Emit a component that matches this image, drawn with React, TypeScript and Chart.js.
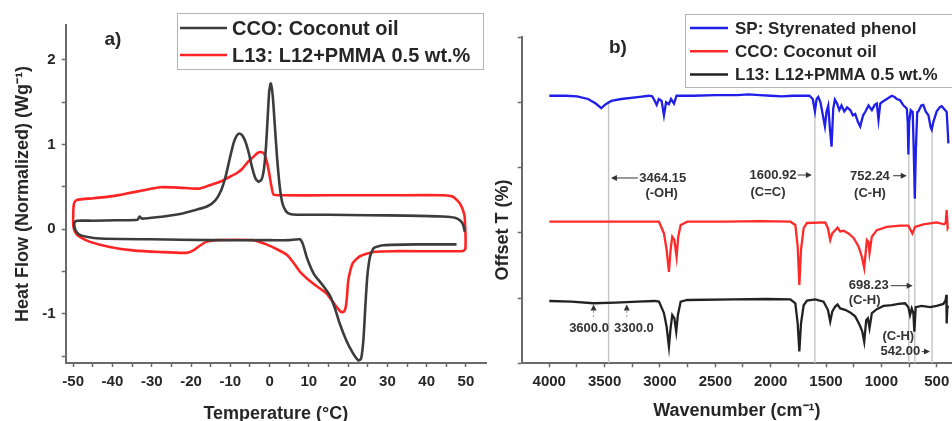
import React, { useEffect, useRef } from 'react';
import { Chart, registerables } from 'chart.js';

Chart.register(...registerables);

const FONT = '"Liberation Sans", Arial, Helvetica, sans-serif';
const TEXT = '#262626';
const AXIS = '#6a6a6a';

// ---------- Panel a) DSC ----------
const dscLabels = ['CCO: Coconut oil', 'L13: L12+PMMA 0.5 wt.%'];
const dscColors = ['#3c3c3c', '#ff2424'];

const ccoDscTemp = [49.7, 49.3, 48.6, 47.2, 44.0, 35.0, 25.0, 15.0, 7.0, 5.2, 4.2, 3.3, 2.6, 1.9, 1.3, 0.8, 0.3, -0.1, -0.5, -0.9,
  -1.4, -2.0, -2.8, -3.6, -4.4, -5.3, -6.2, -7.0, -7.7, -8.4, -9.2, -10.1, -11.2, -12.4, -13.8, -15.8, -18.6, -22.8, -28.8, -32.6,
  -33.1, -33.6, -39.0, -45.0, -49.0, -49.7, -49.5, -48.6, -46.6, -43.2, -30.0, -15.0, 0.0, 5.0, 7.7, 8.5, 9.6, 11.3, 13.5, 15.3,
  16.6, 17.9, 19.6, 21.3, 22.6, 23.3, 23.9, 24.4, 24.9, 25.6, 26.6, 29.0, 37.4, 47.6];
const ccoDscHeat = [-0.03, 0.05, 0.10, 0.135, 0.15, 0.16, 0.165, 0.17, 0.17, 0.18, 0.21, 0.30, 0.50, 0.85, 1.25, 1.58, 1.72, 1.62, 1.30, 0.98,
  0.72, 0.59, 0.56, 0.60, 0.72, 0.90, 1.04, 1.11, 1.13, 1.10, 1.01, 0.84, 0.62, 0.45, 0.34, 0.27, 0.23, 0.18, 0.14, 0.125,
  0.15, 0.11, 0.105, 0.10, 0.10, 0.08, 0.00, -0.06, -0.09, -0.11, -0.12, -0.13, -0.13, -0.13, -0.12, -0.18, -0.35, -0.53, -0.66, -0.78,
  -0.93, -1.12, -1.32, -1.47, -1.55, -1.53, -1.30, -0.90, -0.55, -0.32, -0.22, -0.19, -0.18, -0.18];

const l13DscTemp = [49.8, 49.6, 48.5, 46.8, 44.2, 30.0, 15.0, 3.0, 1.0, 0.5, -0.1, -0.6, -1.4, -2.3, -3.0, -4.2, -5.4, -7.0, -8.4, -10.5,
  -12.6, -14.5, -17.7, -20.0, -23.0, -27.9, -32.0, -36.4, -40.0, -44.9, -49.1, -49.8, -50.0, -49.9, -49.3, -48.3, -45.7, -40.7, -34.8, -27.9,
  -21.2, -19.4, -17.6, -16.1, -13.6, -4.2, -0.8, 2.0, 4.3, 6.0, 7.7, 11.0, 14.5, 17.1, 18.3, 19.0, 19.4, 19.7, 20.0, 20.5,
  21.2, 23.0, 26.4, 31.4, 48.9, 49.8, 49.9, 49.8];
const l13DscHeat = [0.03, 0.17, 0.30, 0.38, 0.40, 0.40, 0.40, 0.40, 0.41, 0.50, 0.66, 0.78, 0.89, 0.91, 0.90, 0.85, 0.80, 0.71, 0.66, 0.61,
  0.56, 0.53, 0.48, 0.48, 0.49, 0.495, 0.46, 0.42, 0.39, 0.365, 0.345, 0.30, 0.15, 0.02, -0.05, -0.09, -0.15, -0.21, -0.25, -0.27,
  -0.28, -0.25, -0.19, -0.15, -0.13, -0.13, -0.18, -0.24, -0.30, -0.39, -0.50, -0.64, -0.76, -0.92, -0.98, -0.97, -0.92, -0.80, -0.62, -0.50,
  -0.40, -0.32, -0.27, -0.26, -0.26, -0.24, -0.10, 0.03];

const dscTempTicks = [-50, -45, -40, -35, -30, -25, -20, -15, -10, -5, 0, 5, 10, 15, 20, 25, 30, 35, 40, 45, 50];
const dscHeatTicks = [-1.5, -1, -0.5, 0, 0.5, 1, 1.5, 2];
const dscPanelLetter = 'a)';
const dscLetterPos = [-39.9, 2.24];

// ---------- Panel b) FTIR ----------
const ftirLabels = ['SP: Styrenated phenol', 'CCO: Coconut oil', 'L13: L12+PMMA 0.5 wt.%'];
const ftirColors = ['#1f1fe8', '#ff2a2a', '#222222'];

const spWn = [4000, 3850, 3750, 3650, 3580, 3530, 3490, 3440, 3350, 3200, 3100, 3070, 3050, 3030, 3010, 2985, 2964, 2945, 2920, 2900,
  2873, 2850, 2700, 2500, 2300, 2200, 2100, 2000, 1900, 1800, 1700, 1650, 1620, 1600, 1585, 1570, 1550, 1510, 1495, 1480,
  1465, 1450, 1435, 1420, 1400, 1380, 1360, 1335, 1310, 1281, 1257, 1236, 1212, 1191, 1165, 1146, 1116, 1086, 1060, 1041,
  1026, 1010, 996, 951, 906, 880, 861, 831, 800, 786, 770, 762, 756, 749, 735, 717, 708, 698, 688, 676,
  666, 640, 621, 600, 575, 555, 545, 530, 500, 470, 455, 425, 410, 400, 395];
const spT = [4.10, 4.10, 4.09, 4.05, 3.98, 3.91, 3.97, 4.02, 4.05, 4.08, 4.10, 4.09, 4.03, 3.96, 4.05, 4.02, 3.80, 4.00, 3.97, 4.05,
  3.98, 4.10, 4.10, 4.11, 4.11, 4.12, 4.11, 4.10, 4.09, 4.10, 4.10, 4.10, 4.05, 3.86, 4.05, 4.08, 4.00, 3.63, 3.86, 3.95,
  3.60, 3.32, 3.90, 4.04, 3.98, 3.88, 3.95, 3.86, 3.92, 3.88, 3.80, 3.82, 3.70, 3.63, 3.80, 3.85, 3.95, 3.88, 3.96, 3.98,
  3.73, 3.98, 4.00, 4.05, 4.10, 4.08, 4.05, 4.03, 3.95, 3.93, 3.90, 3.70, 3.20, 3.70, 3.88, 3.85, 3.30, 2.52, 3.30, 3.85,
  3.86, 3.95, 3.96, 3.86, 3.80, 3.62, 3.58, 3.70, 3.86, 3.93, 3.94, 3.88, 3.85, 3.55, 3.37];

const ccoWn = [4000, 3500, 3100, 3009, 2964, 2940, 2919, 2904, 2889, 2870, 2850, 2835, 2813, 2753, 2400, 2100, 1822, 1777, 1756, 1741,
  1726, 1702, 1672, 1507, 1483, 1462, 1444, 1417, 1396, 1372, 1342, 1297, 1251, 1206, 1176, 1155, 1131, 1116, 1107, 1086,
  1041, 951, 831, 756, 735, 720, 696, 621, 500, 434, 419, 410, 401, 398];
const ccoT = [2.17, 2.17, 2.17, 2.17, 1.99, 1.74, 1.40, 1.74, 1.94, 1.89, 1.63, 1.94, 2.12, 2.17, 2.17, 2.18, 2.17, 2.12, 1.79, 1.20,
  1.74, 2.07, 2.15, 2.16, 2.07, 1.89, 1.99, 2.04, 2.08, 2.02, 2.03, 1.99, 1.92, 1.79, 1.63, 1.46, 1.89, 1.86, 1.69, 1.94,
  2.04, 2.09, 2.11, 2.11, 2.04, 1.99, 2.09, 2.13, 2.16, 2.13, 2.15, 2.35, 2.07, 2.08];

const l13Wn = [4000, 3800, 3600, 3400, 3200, 3050, 3009, 2964, 2940, 2919, 2904, 2889, 2870, 2853, 2838, 2813, 2753, 2333, 2032, 1822,
  1777, 1756, 1741, 1726, 1702, 1672, 1597, 1522, 1483, 1462, 1444, 1417, 1396, 1372, 1327, 1282, 1237, 1197, 1173, 1155,
  1137, 1122, 1107, 1086, 1041, 981, 906, 846, 786, 756, 741, 726, 711, 702, 690, 636, 560, 500, 440, 419,
  413, 410, 404, 400];
const l13T = [0.955, 0.945, 0.92, 0.93, 0.945, 0.955, 0.945, 0.77, 0.56, 0.255, 0.54, 0.74, 0.69, 0.485, 0.74, 0.945, 0.97, 0.98, 0.985, 0.98,
  0.92, 0.61, 0.18, 0.61, 0.89, 0.96, 0.98, 0.945, 0.82, 0.64, 0.79, 0.87, 0.90, 0.84, 0.82, 0.78, 0.72, 0.59, 0.49, 0.33,
  0.66, 0.69, 0.54, 0.77, 0.83, 0.88, 0.89, 0.91, 0.92, 0.86, 0.74, 0.84, 0.77, 0.485, 0.86, 0.88, 0.86, 0.88, 0.91, 0.97,
  1.05, 0.61, 0.87, 0.88];

const ftirWnTicks = [500, 750, 1000, 1250, 1500, 1750, 2000, 2250, 2500, 2750, 3000, 3250, 3500, 3750, 4000];
const ftirOffsetTicks = [0, 1, 2, 3, 4, 5];

// reference lines (wavenumber, top value)
const markerWn = [3464.15, 1600.92, 752.24, 698.23, 542.0];
const markerTop = [4.02, 4.03, 3.22, 2.52, 3.6];

// annotation texts
const noteText = ['3464.15', '(-OH)', '1600.92', '(C=C)', '752.24', '(C-H)', '698.23', '(C-H)', '(C-H)', '542.00', '3600.0', '3300.0'];
const noteWn = [2975, 2985, 1979, 2024, 1103, 1103, 1114, 1151, 847, 829, 3641, 3235];
const noteT = [2.84, 2.61, 2.885, 2.625, 2.86, 2.61, 1.19, 0.97, 0.41, 0.18, 0.54, 0.54];
// horizontal arrows: from -> to (head at "to")
const arrowFromWn = [3200, 1755, 893, 916, 636];
const arrowToWn = [3443, 1628, 771, 717, 561];
const arrowT = [2.84, 2.885, 2.875, 1.19, 0.18];
// small upward arrows
const upArrowWn = [3600, 3300];
const upArrowFromT = 0.71;
const upArrowToT = 0.9;
const ftirPanelLetter = 'b)';
const ftirLetterPos = [3380, 4.84];

function toPoints(xs: number[], ys: number[]) {
  return xs.map((x, i) => ({ x, y: ys[i] }));
}

function drawHArrow(ctx: CanvasRenderingContext2D, x1: number, x2: number, y: number) {
  const dir = Math.sign(x2 - x1) || 1;
  ctx.strokeStyle = '#555';
  ctx.lineWidth = 1.2;
  ctx.beginPath();
  ctx.moveTo(x1, y);
  ctx.lineTo(x2 - dir * 4, y);
  ctx.stroke();
  ctx.fillStyle = '#333';
  ctx.beginPath();
  ctx.moveTo(x2, y);
  ctx.lineTo(x2 - dir * 6, y - 3);
  ctx.lineTo(x2 - dir * 6, y + 3);
  ctx.closePath();
  ctx.fill();
}

const tickFont = { family: FONT, size: 15, weight: 'bold' as const };
const titleFont = { family: FONT, size: 18, weight: 'bold' as const };

const panelAPlugin = {
  id: 'panelA',
  afterDraw(chart: any) {
    const { ctx, scales } = chart;
    ctx.save();
    ctx.fillStyle = TEXT;
    ctx.font = `bold 19px ${FONT}`;
    ctx.textAlign = 'center';
    ctx.textBaseline = 'middle';
    ctx.fillText(dscPanelLetter, scales.x.getPixelForValue(dscLetterPos[0]), scales.y.getPixelForValue(dscLetterPos[1]));
    // legend
    ctx.fillStyle = '#fff';
    ctx.fillRect(177.5, 13.5, 306, 56);
    ctx.strokeStyle = '#b4b4b4';
    ctx.lineWidth = 1;
    ctx.strokeRect(177.5, 13.5, 306, 56);
    chart.data.datasets.forEach((ds: any, i: number) => {
      const y = 28 + i * 27;
      ctx.strokeStyle = ds.borderColor;
      ctx.lineWidth = 2.5;
      ctx.beginPath();
      ctx.moveTo(180, y);
      ctx.lineTo(227, y);
      ctx.stroke();
      ctx.fillStyle = TEXT;
      ctx.font = `bold 20px ${FONT}`;
      ctx.textAlign = 'left';
      ctx.textBaseline = 'middle';
      ctx.fillText(ds.label, 232, y + 1);
    });
    ctx.restore();
  },
};

const panelBPlugin = {
  id: 'panelB',
  afterDraw(chart: any) {
    const { ctx, scales } = chart;
    const xs = scales.x;
    const ys = scales.y;
    ctx.save();
    // y title
    ctx.save();
    ctx.translate(23, 230);
    ctx.rotate(-Math.PI / 2);
    ctx.fillStyle = TEXT;
    ctx.font = `bold 18px ${FONT}`;
    ctx.textAlign = 'center';
    ctx.textBaseline = 'middle';
    ctx.fillText('Offset T (%)', 0, 0);
    ctx.restore();
    // panel letter
    ctx.fillStyle = TEXT;
    ctx.font = `bold 19px ${FONT}`;
    ctx.textAlign = 'center';
    ctx.textBaseline = 'middle';
    ctx.fillText(ftirPanelLetter, xs.getPixelForValue(ftirLetterPos[0]), ys.getPixelForValue(ftirLetterPos[1]));
    // annotations
    ctx.font = `bold 13px ${FONT}`;
    ctx.fillStyle = '#333';
    noteText.forEach((t, i) => {
      ctx.fillText(t, xs.getPixelForValue(noteWn[i]), ys.getPixelForValue(noteT[i]));
    });
    arrowFromWn.forEach((w, i) => {
      drawHArrow(ctx, xs.getPixelForValue(w), xs.getPixelForValue(arrowToWn[i]), ys.getPixelForValue(arrowT[i]));
    });
    upArrowWn.forEach((w) => {
      const x = xs.getPixelForValue(w);
      const y1 = ys.getPixelForValue(upArrowFromT);
      const y2 = ys.getPixelForValue(upArrowToT);
      ctx.strokeStyle = '#999';
      ctx.lineWidth = 1;
      ctx.setLineDash([2, 2]);
      ctx.beginPath();
      ctx.moveTo(x, y1);
      ctx.lineTo(x, y2 + 4);
      ctx.stroke();
      ctx.setLineDash([]);
      ctx.fillStyle = '#333';
      ctx.beginPath();
      ctx.moveTo(x, y2);
      ctx.lineTo(x - 3, y2 + 6);
      ctx.lineTo(x + 3, y2 + 6);
      ctx.closePath();
      ctx.fill();
    });
    // legend
    ctx.fillStyle = '#fff';
    ctx.fillRect(205.5, 14.5, 280, 73);
    ctx.strokeStyle = '#b4b4b4';
    ctx.lineWidth = 1;
    ctx.strokeRect(205.5, 14.5, 280, 73);
    ftirLabels.forEach((label, i) => {
      const y = 28 + i * 23.2;
      ctx.strokeStyle = ftirColors[i];
      ctx.lineWidth = 2.5;
      ctx.beginPath();
      ctx.moveTo(210, y);
      ctx.lineTo(248, y);
      ctx.stroke();
      ctx.fillStyle = TEXT;
      ctx.font = `bold 17px ${FONT}`;
      ctx.textAlign = 'left';
      ctx.textBaseline = 'middle';
      ctx.fillText(label, 255, y + 1);
    });
    ctx.restore();
  },
};

function makeDscConfig(): any {
  return {
    type: 'line',
    data: {
      datasets: [
        { label: dscLabels[0], data: toPoints(ccoDscTemp, ccoDscHeat), borderColor: dscColors[0], borderWidth: 2.6, pointRadius: 0, tension: 0.2, fill: false },
        { label: dscLabels[1], data: toPoints(l13DscTemp, l13DscHeat), borderColor: dscColors[1], borderWidth: 2.6, pointRadius: 0, tension: 0.2, fill: false },
      ],
    },
    options: {
      responsive: false,
      animation: false,
      devicePixelRatio: 1,
      layout: { padding: { left: 0, right: 4, top: 25, bottom: 0 } },
      plugins: { legend: { display: false }, tooltip: { enabled: false } },
      scales: {
        x: {
          type: 'linear',
          min: -51.9,
          max: 55.1,
          afterBuildTicks: (s: any) => { s.ticks = dscTempTicks.map((v) => ({ value: v })); },
          afterFit: (s: any) => { s.height = 58; },
          ticks: {
            autoSkip: false, maxRotation: 0, padding: 6, color: TEXT, font: tickFont,
            callback: (v: number) => (v % 10 === 0 ? String(v) : ''),
          },
          grid: { drawOnChartArea: false, drawTicks: true, tickLength: 4, tickColor: AXIS, tickWidth: 1.5 },
          border: { display: true, color: AXIS, width: 2 },
          title: { display: true, text: 'Temperature (°C)', color: TEXT, font: titleFont, padding: { top: 0, bottom: -3.5 } },
        },
        y: {
          type: 'linear',
          min: -1.58,
          max: 2.41,
          afterBuildTicks: (s: any) => { s.ticks = dscHeatTicks.map((v) => ({ value: v })); },
          afterFit: (s: any) => { s.width = 65.7; },
          ticks: {
            autoSkip: false, padding: 6, color: TEXT, font: tickFont,
            callback: (v: number) => (Number.isInteger(v) ? String(v) : ''),
          },
          grid: { drawOnChartArea: false, drawTicks: true, tickLength: 4, tickColor: AXIS, tickWidth: 1.5 },
          border: { display: true, color: AXIS, width: 2 },
          title: { display: true, text: 'Heat Flow (Normalized) (Wg⁻¹)', color: TEXT, font: titleFont, padding: { top: 12, bottom: 0 } },
        },
      },
    },
    plugins: [panelAPlugin],
  };
}

function makeFtirConfig(): any {
  const traces = [
    toPoints(spWn, spT),
    toPoints(ccoWn, ccoT),
    toPoints(l13Wn, l13T),
  ].map((pts, i) => ({
    label: ftirLabels[i], data: pts, borderColor: ftirColors[i], borderWidth: 2.3, pointRadius: 0, tension: 0, fill: false, order: 0,
  }));
  const markers = markerWn.map((w, i) => ({
    label: 'marker' + i,
    data: [{ x: w, y: markerTop[i] }, { x: w, y: 0 }],
    borderColor: '#c4c4c4', borderWidth: 1.4, pointRadius: 0, tension: 0, fill: false, order: 1,
  }));
  return {
    type: 'line',
    data: { datasets: [...traces, ...markers] },
    options: {
      responsive: false,
      animation: false,
      devicePixelRatio: 1,
      layout: { padding: { left: 0, right: 0, top: 37, bottom: 0 } },
      plugins: { legend: { display: false }, tooltip: { enabled: false } },
      scales: {
        x: {
          type: 'linear',
          reverse: true,
          min: 362,
          max: 4249,
          afterBuildTicks: (s: any) => { s.ticks = ftirWnTicks.map((v) => ({ value: v })); },
          afterFit: (s: any) => { s.height = 57.7; },
          ticks: {
            autoSkip: false, maxRotation: 0, padding: 5.5, color: TEXT, font: tickFont,
            callback: (v: number) => (v % 500 === 0 ? String(v) : ''),
          },
          grid: { drawOnChartArea: false, drawTicks: true, tickLength: 4, tickColor: AXIS, tickWidth: 1.5 },
          border: { display: true, color: AXIS, width: 2 },
          title: { display: true, text: 'Wavenumber (cm⁻¹)', color: TEXT, font: titleFont, padding: { top: 0, bottom: -0.5 } },
        },
        y: {
          type: 'linear',
          min: 0,
          max: 5,
          afterBuildTicks: (s: any) => { s.ticks = ftirOffsetTicks.map((v) => ({ value: v })); },
          afterFit: (s: any) => { s.width = 41.7; },
          ticks: { autoSkip: false, display: true, color: TEXT, font: tickFont, callback: () => '' },
          grid: { drawOnChartArea: false, drawTicks: true, tickLength: 4, tickColor: AXIS, tickWidth: 1.5 },
          border: { display: true, color: AXIS, width: 2 },
        },
      },
    },
    plugins: [panelBPlugin],
  };
}

export default function App() {
  const refA = useRef<HTMLCanvasElement>(null);
  const refB = useRef<HTMLCanvasElement>(null);
  useEffect(() => {
    const a = new Chart(refA.current as HTMLCanvasElement, makeDscConfig());
    const b = new Chart(refB.current as HTMLCanvasElement, makeFtirConfig());
    return () => {
      a.destroy();
      b.destroy();
    };
  }, []);
  return (
    <div style={{ position: 'absolute', left: 0, top: 0, width: 952, height: 421, background: '#fff', overflow: 'hidden' }}>
      <canvas ref={refA} width={490} height={421} style={{ position: 'absolute', left: 0, top: 0, width: 490, height: 421 }} />
      <canvas ref={refB} width={472} height={421} style={{ position: 'absolute', left: 480, top: 0, width: 472, height: 421 }} />
    </div>
  );
}
